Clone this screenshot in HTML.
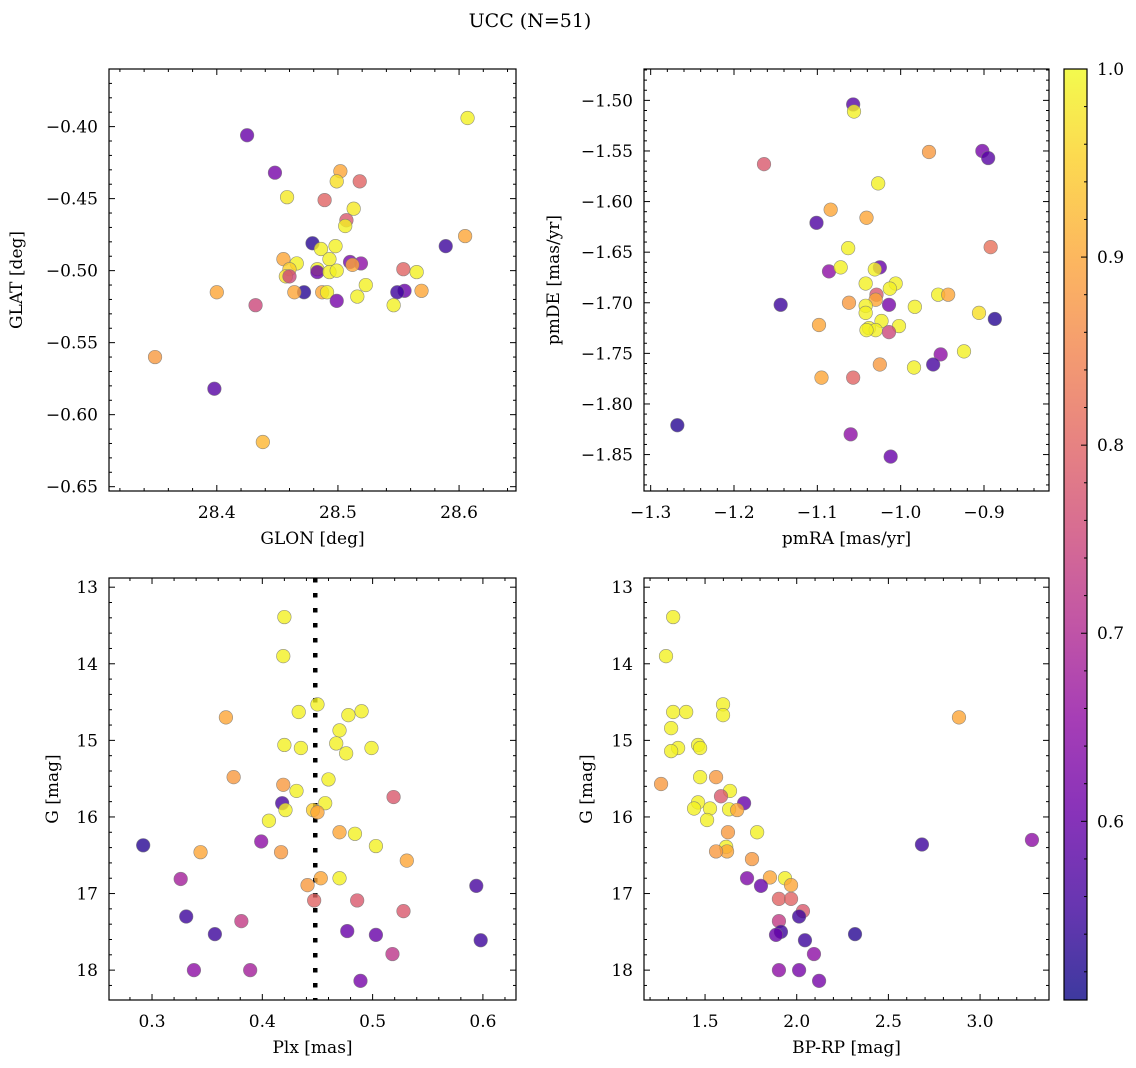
<!DOCTYPE html>
<html><head><meta charset="utf-8">
<style>
html,body{margin:0;padding:0;background:#fff;}
svg{display:block;font-family:"DejaVu Serif","Liberation Serif",serif;}
</style></head>
<body>
<svg id="fig" width="1136" height="1068" viewBox="0 0 1136 1068" xmlns="http://www.w3.org/2000/svg">
<text x="530" y="27" font-size="19" text-anchor="middle">UCC (N=51)</text>
</svg>
<script>
// Panel 1: GLON / GLAT
const glon = [28.425,28.448,28.607,28.502,28.518,28.499,28.458,28.513,28.489,28.507,28.506,28.605,28.589,28.479,28.486,28.498,28.493,28.510,28.519,28.455,28.466,28.512,28.483,28.554,28.565,28.460,28.457,28.483,28.493,28.499,28.523,28.569,28.555,28.549,28.472,28.464,28.487,28.491,28.499,28.516,28.546,28.400,28.432,28.349,28.398,28.438,28.460];
const glat = [-0.406,-0.432,-0.394,-0.431,-0.438,-0.438,-0.449,-0.457,-0.451,-0.465,-0.469,-0.476,-0.483,-0.481,-0.485,-0.483,-0.492,-0.494,-0.495,-0.492,-0.495,-0.496,-0.499,-0.499,-0.501,-0.499,-0.504,-0.501,-0.501,-0.500,-0.510,-0.514,-0.514,-0.515,-0.515,-0.515,-0.515,-0.515,-0.521,-0.518,-0.524,-0.515,-0.524,-0.560,-0.582,-0.619,-0.504];
const c1 = [0.60,0.62,0.99,0.90,0.80,0.97,0.98,0.98,0.80,0.78,0.99,0.90,0.55,0.53,0.99,0.99,0.99,0.62,0.65,0.90,0.99,0.90,0.99,0.80,0.99,0.95,0.97,0.60,0.99,0.99,0.99,0.90,0.60,0.55,0.53,0.90,0.90,0.99,0.62,0.99,0.99,0.90,0.75,0.88,0.58,0.92,0.75];
// Panel 2: pmRA / pmDE
const pmra = [-1.057,-1.056,-1.164,-0.966,-0.902,-0.895,-1.027,-1.084,-1.041,-1.101,-0.892,-1.063,-1.025,-1.086,-1.072,-1.031,-1.042,-1.006,-1.013,-1.029,-0.955,-0.943,-1.062,-1.030,-1.144,-1.014,-1.042,-0.983,-1.042,-0.906,-0.887,-1.023,-1.038,-1.030,-1.002,-1.014,-1.098,-1.041,-0.952,-0.924,-1.025,-0.984,-0.961,-1.095,-1.057,-1.268,-1.060,-1.012];
const pmde = [-1.504,-1.511,-1.563,-1.551,-1.550,-1.557,-1.582,-1.608,-1.616,-1.621,-1.645,-1.646,-1.665,-1.669,-1.665,-1.667,-1.681,-1.681,-1.686,-1.692,-1.692,-1.692,-1.700,-1.697,-1.702,-1.702,-1.703,-1.704,-1.710,-1.710,-1.716,-1.718,-1.725,-1.727,-1.723,-1.729,-1.722,-1.727,-1.751,-1.748,-1.761,-1.764,-1.761,-1.774,-1.774,-1.821,-1.830,-1.852];
const c2 = [0.58,0.99,0.78,0.88,0.62,0.58,0.99,0.90,0.90,0.57,0.82,0.99,0.60,0.65,0.99,0.99,0.99,0.99,0.99,0.78,0.99,0.90,0.88,0.90,0.55,0.62,0.99,0.99,0.99,0.97,0.53,0.99,0.99,0.99,0.99,0.75,0.90,0.99,0.65,0.99,0.88,0.99,0.56,0.90,0.80,0.53,0.65,0.60];
// Panel 3: Plx / G
const plx = [0.420,0.419,0.367,0.450,0.433,0.490,0.478,0.470,0.420,0.435,0.467,0.476,0.499,0.374,0.460,0.419,0.431,0.519,0.418,0.457,0.421,0.446,0.450,0.406,0.470,0.484,0.399,0.292,0.503,0.417,0.344,0.531,0.326,0.453,0.470,0.441,0.594,0.447,0.486,0.331,0.528,0.381,0.357,0.477,0.503,0.598,0.518,0.338,0.389,0.489];
const g3 = [13.39,13.90,14.70,14.53,14.63,14.62,14.67,14.87,15.06,15.10,15.04,15.17,15.10,15.48,15.51,15.58,15.66,15.74,15.82,15.82,15.91,15.91,15.94,16.05,16.20,16.22,16.32,16.37,16.38,16.46,16.46,16.57,16.81,16.80,16.80,16.89,16.90,17.09,17.09,17.30,17.23,17.36,17.53,17.49,17.54,17.61,17.79,18.00,18.00,18.14];
const c3 = [0.99,0.99,0.90,0.99,0.99,0.99,0.99,0.99,0.99,0.99,0.99,0.99,0.99,0.88,0.99,0.88,0.99,0.78,0.56,0.99,0.99,0.95,0.90,0.99,0.90,0.99,0.65,0.53,0.99,0.88,0.90,0.90,0.68,0.90,0.99,0.88,0.56,0.80,0.78,0.55,0.78,0.73,0.55,0.60,0.60,0.55,0.72,0.65,0.68,0.62];
const plxLine = 0.448;
// Panel 4: BP-RP / G
const bprp = [1.326,1.287,2.885,1.598,1.326,1.397,1.598,1.315,1.462,1.353,1.473,1.315,1.260,1.473,1.560,1.636,1.587,1.713,1.462,1.440,1.527,1.631,1.675,1.511,1.625,1.784,1.615,1.620,1.560,2.683,3.283,1.756,1.729,1.854,1.936,1.969,1.805,1.903,1.969,2.034,2.013,1.903,1.914,1.887,2.318,2.045,2.094,1.903,2.013,2.122];
const g4 = [13.39,13.90,14.70,14.53,14.63,14.63,14.67,14.84,15.06,15.10,15.10,15.14,15.57,15.48,15.48,15.66,15.73,15.82,15.81,15.89,15.89,15.90,15.91,16.04,16.20,16.20,16.39,16.45,16.45,16.36,16.30,16.55,16.80,16.79,16.80,16.89,16.90,17.07,17.07,17.23,17.30,17.36,17.50,17.54,17.53,17.61,17.79,18.00,18.00,18.14];
const c4 = [0.99,0.99,0.90,0.99,0.99,0.99,0.99,0.99,0.99,0.99,0.99,0.99,0.88,0.99,0.88,0.99,0.78,0.60,0.99,0.99,0.99,0.99,0.90,0.99,0.88,0.99,0.99,0.90,0.88,0.55,0.65,0.88,0.63,0.90,0.99,0.90,0.60,0.80,0.80,0.78,0.55,0.73,0.55,0.60,0.53,0.55,0.65,0.65,0.62,0.62];
const cbTicks = [0.6,0.7,0.8,0.9,1.0];
const cMin = 0.505, cMax = 1.0;

const NS = "http://www.w3.org/2000/svg";
const svg = document.getElementById('fig');
const plasma = ["#0d0887","#41049d","#6a00a8","#8f0da4","#b12a90","#cc4778","#e16462","#f2844b","#fca636","#fcce25","#f0f921"];
function hex(h){return [1,3,5].map(i=>parseInt(h.substr(i,2),16));}
function cmap(v){
  let t=(v-cMin)/(cMax-cMin); t=Math.max(0,Math.min(1,t));
  const p=t*10, i=Math.min(9,Math.floor(p)), f=p-i;
  const a=hex(plasma[i]), b=hex(plasma[i+1]);
  return 'rgb('+a.map((x,k)=>Math.round(x+(b[k]-x)*f)).join(',')+')';
}
function mk(tag, attrs, parent){
  const e=document.createElementNS(NS,tag);
  for(const k in attrs) e.setAttribute(k,attrs[k]);
  (parent||svg).appendChild(e); return e;
}
function fmt(v,d){return (v<0?'\u2212':'')+Math.abs(v).toFixed(d);}

function panel(o){
  const g=mk('g',{});
  
  
  const sx=v=>o.x0+(v-o.xmin)/(o.xmax-o.xmin)*(o.x1-o.x0);
  const sy=o.invert ? (v=>o.y0+(v-o.ymin)/(o.ymax-o.ymin)*(o.y1-o.y0))
                    : (v=>o.y1-(v-o.ymin)/(o.ymax-o.ymin)*(o.y1-o.y0));
  const tg=mk('g',{stroke:'#000','stroke-width':1},g);
  const eps=1e-9;
  for(let v=Math.ceil((o.xmin)/o.xminor-eps)*o.xminor; v<=o.xmax+eps; v+=o.xminor){
    const major=Math.abs(v/o.xstep-Math.round(v/o.xstep))<1e-6;
    const L=major?6:3, X=sx(v);
    mk('line',{x1:X,x2:X,y1:o.y1,y2:o.y1-L},tg);
    mk('line',{x1:X,x2:X,y1:o.y0,y2:o.y0+L},tg);
    if(major){
      const t=mk('text',{x:X,y:o.y1+27,'font-size':17,'text-anchor':'middle',stroke:'none'},g);
      
      
      t.textContent=fmt(v,o.xdec);
    }
  }
  for(let v=Math.ceil((o.ymin)/o.yminor-eps)*o.yminor; v<=o.ymax+eps; v+=o.yminor){
    const major=Math.abs(v/o.ystep-Math.round(v/o.ystep))<1e-6;
    const L=major?6:3, Y=sy(v);
    mk('line',{x1:o.x0,x2:o.x0+L,y1:Y,y2:Y},tg);
    mk('line',{x1:o.x1,x2:o.x1-L,y1:Y,y2:Y},tg);
    if(major){
      const t=mk('text',{x:o.x0-11,y:Y+6,'font-size':17,'text-anchor':'end'},g);
      
      
      t.textContent=fmt(v,o.ydec);
    }
  }
  if(o.vline!==undefined){
    const l=mk('line',{x1:sx(o.vline),x2:sx(o.vline),y1:o.y0,y2:o.y1,stroke:'#000','stroke-width':4.5,'stroke-dasharray':'4.5,10.5'},g);
    
    
  }
  const pg=mk('g',{},g);
  for(let i=0;i<o.xs.length;i++){
    const c=mk('circle',{cx:sx(o.xs[i]),cy:sy(o.ys[i]),r:6.8,fill:cmap(o.cs[i]),'fill-opacity':0.8,stroke:'#777','stroke-width':0.6,'stroke-opacity':0.8},pg);
    
    
  }
  const fr=mk('rect',{x:o.x0,y:o.y0,width:o.x1-o.x0,height:o.y1-o.y0,fill:'none',stroke:'#000','stroke-width':1.2},g);
  
  
  const xl=mk('text',{x:(o.x0+o.x1)/2,y:o.y1+53,'font-size':17,'text-anchor':'middle'},g);
  
  
  xl.textContent=o.xlabel;
  const yx=o.ylx, yy=(o.y0+o.y1)/2;
  const yl=mk('text',{x:yx,y:yy,'font-size':17,'text-anchor':'middle',transform:'rotate(-90 '+yx+' '+yy+')'},g);
  
  
  yl.textContent=o.ylabel;
}

panel({name:'glon-glat-panel',x0:109,x1:516,y0:69,y1:491,xmin:28.311,xmax:28.647,ymin:-0.653,ymax:-0.360,
  xstep:0.1,xminor:0.02,xdec:1,ystep:0.05,yminor:0.01,ydec:2,xs:glon,ys:glat,cs:c1,xlabel:'GLON [deg]',ylabel:'GLAT [deg]',ylx:22});
panel({name:'pm-panel',x0:644,x1:1049,y0:69,y1:491,xmin:-1.308,xmax:-0.822,ymin:-1.886,ymax:-1.469,
  xstep:0.1,xminor:0.02,xdec:1,ystep:0.05,yminor:0.01,ydec:2,xs:pmra,ys:pmde,cs:c2,xlabel:'pmRA [mas/yr]',ylabel:'pmDE [mas/yr]',ylx:559});
panel({name:'plx-g-panel',x0:109,x1:516,y0:578,y1:1000,xmin:0.261,xmax:0.630,ymin:12.88,ymax:18.39,invert:true,
  xstep:0.1,xminor:0.02,xdec:1,ystep:1,yminor:0.2,ydec:0,xs:plx,ys:g3,cs:c3,xlabel:'Plx [mas]',ylabel:'G [mag]',ylx:58,vline:plxLine});
panel({name:'cmd-panel',x0:644,x1:1049,y0:578,y1:1000,xmin:1.167,xmax:3.376,ymin:12.88,ymax:18.39,invert:true,
  xstep:0.5,xminor:0.1,xdec:1,ystep:1,yminor:0.2,ydec:0,xs:bprp,ys:g4,cs:c4,xlabel:'BP-RP [mag]',ylabel:'G [mag]',ylx:592});

// colorbar
(function(){
  const x0=1064,x1=1087,y0=69,y1=1000;
  const g=mk('g',{});
  
  
  const defs=mk('defs',{},g);
  const lg=mk('linearGradient',{id:'cb',x1:0,y1:1,x2:0,y2:0},defs);
  const t0=0;
  plasma.forEach((c,i)=>mk('stop',{offset:(i*10)+'%','stop-color':c,'stop-opacity':0.8},lg));
  mk('rect',{x:x0,y:y0,width:x1-x0,height:y1-y0,fill:'url(#cb)'},g);
  const sy=v=>y1-(v-cMin)/(cMax-cMin)*(y1-y0);
  for(let v=0.52; v<=1.0001; v+=0.02){
    const major=Math.abs(v*10-Math.round(v*10))<1e-6;
    const L=major?6:3;
    mk('line',{x1:x1,x2:x1-L,y1:sy(v),y2:sy(v),stroke:'#000'},g);
  }
  cbTicks.forEach(v=>{
    const t=mk('text',{x:x1+10,y:sy(v)+6,'font-size':17},g);
    
    
    t.textContent=v.toFixed(1);
  });
  mk('rect',{x:x0,y:y0,width:x1-x0,height:y1-y0,fill:'none',stroke:'#000','stroke-width':1.2},g);
})();
</script>
</body></html>
